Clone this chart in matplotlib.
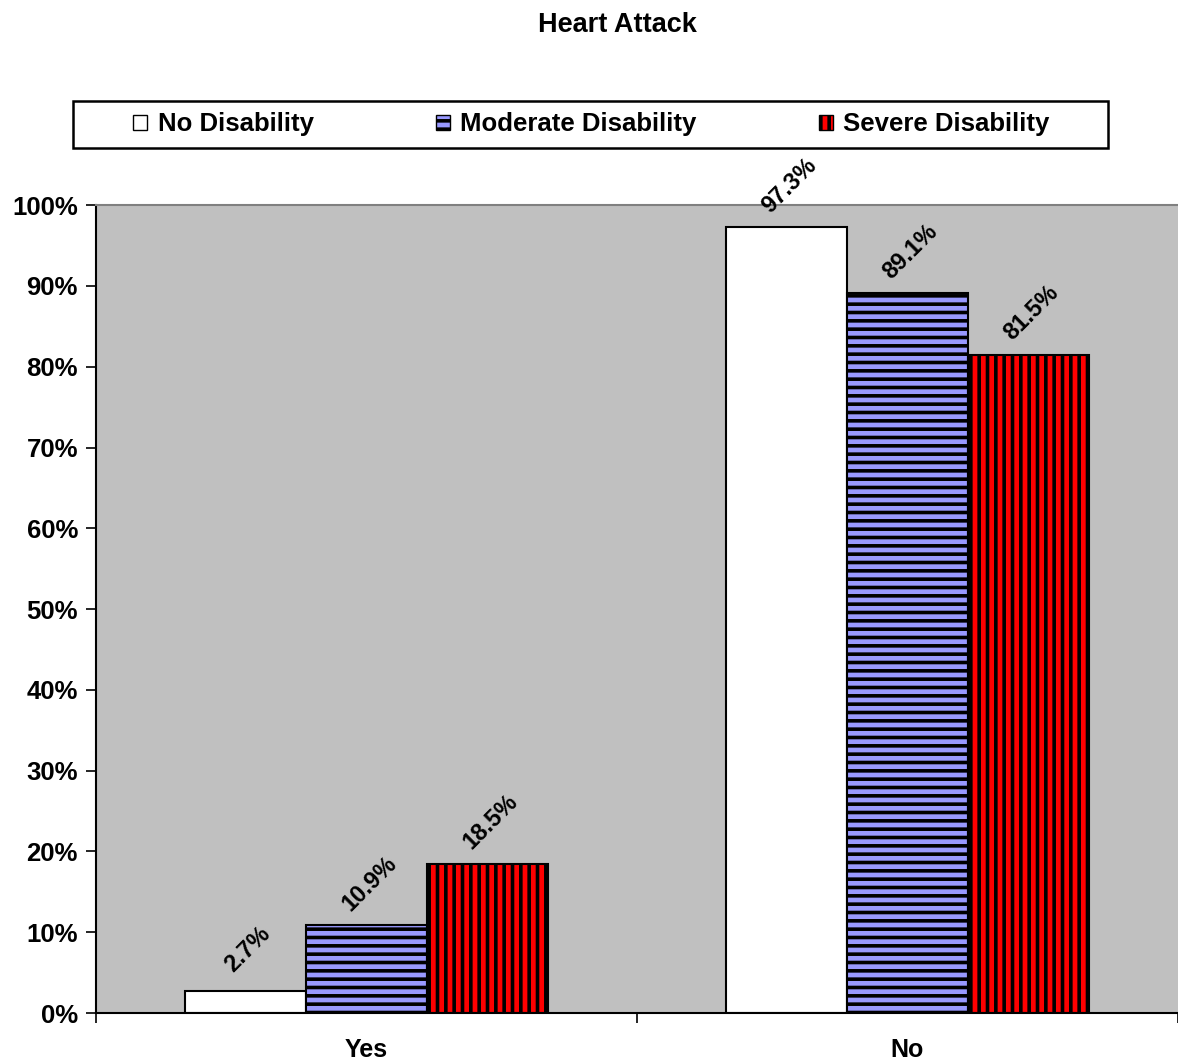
"""Heart Attack by disability level - grouped bar chart."""

import numpy as np
import matplotlib
matplotlib.use('Agg')
import matplotlib.pyplot as plt
from matplotlib.patches import Rectangle
from matplotlib.ticker import FixedLocator, FuncFormatter

CATEGORIES = ['Yes', 'No']
SERIES = ['No Disability', 'Moderate Disability', 'Severe Disability']
VALUES = {
    'No Disability':       [2.7, 97.3],
    'Moderate Disability': [10.9, 89.1],
    'Severe Disability':   [18.5, 81.5],
}
COLORS  = {'No Disability': '#FFFFFF', 'Moderate Disability': '#9999FF', 'Severe Disability': '#FF0000'}
HATCHES = {'No Disability': None, 'Moderate Disability': '--', 'Severe Disability': '||'}
YTICKS = [0, 10, 20, 30, 40, 50, 60, 70, 80, 90, 100]

plt.rcParams['font.family'] = ['Liberation Sans', 'DejaVu Sans']
plt.rcParams['font.weight'] = 'bold'
plt.rcParams['hatch.linewidth'] = 2.6
plt.rcParams['hatch.color'] = 'black'

fig = plt.figure(figsize=(11.78, 10.63), dpi=100)
ax = fig.add_axes([0.0815, 0.047, 0.9185, 0.760])
ax.set_facecolor('#C0C0C0')

x = np.arange(len(CATEGORIES))
width = 0.224
for i, s in enumerate(SERIES):
    pos = x + (i - 1) * width
    bars = ax.bar(pos, VALUES[s], width, color=COLORS[s], edgecolor='black',
                  linewidth=1.5, hatch=HATCHES[s], label=s, zorder=2)
    for b, v in zip(bars, VALUES[s]):
        ax.annotate(f'{v:.1f}%', (b.get_x() + b.get_width() / 2, v),
                    xytext=(2, 30), textcoords='offset points',
                    rotation=45, ha='center', va='center', rotation_mode='anchor',
                    fontsize=17, fontweight='bold')

ax.set_xlim(-0.5, 1.5)
ax.set_ylim(0, 100)
ax.set_yticks(YTICKS)
ax.yaxis.set_major_formatter(FuncFormatter(lambda v, _: f'{v:.0f}%'))
ax.tick_params(axis='y', length=7, width=1.2, labelsize=18.5, pad=6)
ax.set_xticks(x)
ax.set_xticklabels(CATEGORIES, fontsize=18, fontweight='bold')
ax.tick_params(axis='x', which='major', length=0, pad=18)
ax.xaxis.set_minor_locator(FixedLocator([-0.5, 0.5, 1.5]))
ax.tick_params(axis='x', which='minor', length=7, width=1.2)

ax.spines['right'].set_visible(False)
ax.spines['top'].set_color('#808080')
ax.spines['top'].set_linewidth(1.5)
ax.spines['left'].set_linewidth(1.5)
ax.spines['bottom'].set_linewidth(1.5)

fig.text(0.524, 0.9765, 'Heart Attack', ha='center', va='center',
         fontsize=19.5, fontweight='bold')

# legend box drawn by hand, entries laid out by the legend
fig.patches.append(Rectangle((0.062, 0.8608), 0.8786, 0.0442, transform=fig.transFigure,
                             facecolor='white', edgecolor='black', linewidth=1.8, zorder=1))
leg = fig.legend(loc='center', bbox_to_anchor=(0.502, 0.883), ncol=3, frameon=False,
                 fontsize=18.5, handlelength=0.55, handleheight=0.55,
                 handletextpad=0.4, borderaxespad=0, borderpad=0, columnspacing=4.75)
leg.set_zorder(2)
for h in leg.legend_handles:
    h.set_linewidth(1.0)

fig.savefig('out.png', dpi=100)
